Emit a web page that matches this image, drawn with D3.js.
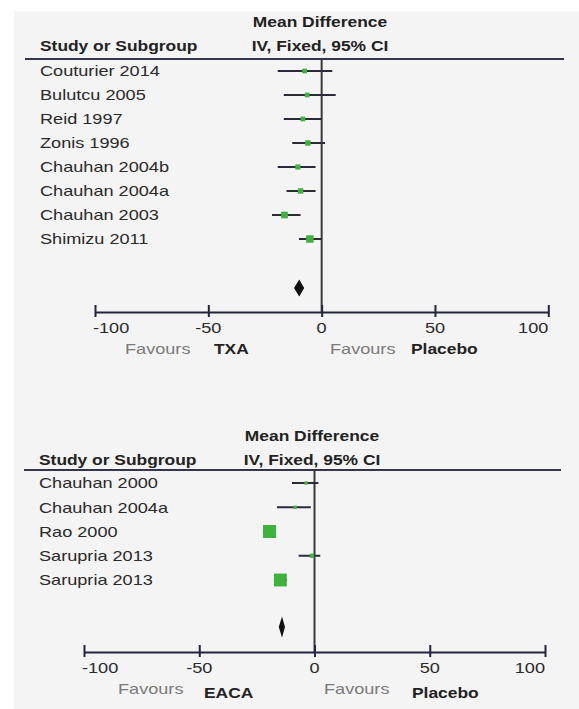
<!DOCTYPE html>
<html>
<head>
<meta charset="utf-8">
<script src="https://cdn.jsdelivr.net/npm/d3@7"></script>
<style>
  html, body { margin: 0; padding: 0; background: #ffffff; }
  svg { display: block; }
</style>
</head>
<body>
<div id="chart"></div>
<script>
// Tranexamic acid vs placebo
const txaStudies = ["Couturier 2014", "Bulutcu 2005", "Reid 1997", "Zonis 1996",
                    "Chauhan 2004b", "Chauhan 2004a", "Chauhan 2003", "Shimizu 2011"];
const txaMean   = [-7.5, -6.4, -8.3, -6.1, -10.5, -9.3, -16.4, -5.2];
const txaLower  = [-19.4, -16.7, -16.7, -13.0, -19.4, -15.5, -21.9, -10.0];
const txaUpper  = [4.7, 6.2, 0.0, 1.5, -2.7, -2.7, -9.3, 0.0];
const txaWeight = [6, 6, 6, 8, 7, 8, 12, 15];
const txaPooled = [-9.9, -12.2, -7.7];   // mean, lower, upper

// Epsilon-aminocaproic acid vs placebo
const eacaStudies = ["Chauhan 2000", "Chauhan 2004a", "Rao 2000", "Sarupria 2013", "Sarupria 2013"];
const eacaMean   = [-3.7, -8.4, -19.5, -1.1, -14.8];
const eacaLower  = [-9.8, -16.3, -22.3, -6.9, -17.6];
const eacaUpper  = [1.7, -1.6, -16.7, 2.5, -12.0];
const eacaWeight = [3, 3, 45, 5, 44];
const eacaPooled = [-14.1, -15.5, -12.8];

const axisTicks = [-100, -50, 0, 50, 100];
const axisTickLabels = ["-100", "-50", "0", "50", "100"];

const W = 579, H = 709;
const FONT = "'Liberation Sans', Arial, Helvetica, sans-serif";
const SX = 1.25;      // glyphs in this figure are drawn wide
const SXB = 1.2;

const svg = d3.select("#chart").append("svg")
  .attr("width", W).attr("height", H);

svg.append("rect").attr("x", 14).attr("y", 11)
  .attr("width", W - 14).attr("height", H - 11)
  .attr("fill", "#f4f4f4");

function label(g, str, x, y, o = {}) {
  const bold = !!o.bold;
  return g.append("text")
    .attr("transform", `translate(${x},${y}) scale(${o.sx || (bold ? SXB : SX)},1)`)
    .attr("text-anchor", o.anchor || "start")
    .attr("dominant-baseline", "central")
    .attr("font-family", FONT)
    .attr("font-size", o.size || 14.5)
    .attr("font-weight", bold ? "bold" : "normal")
    .attr("fill", o.fill || "#262626")
    .text(str);
}

const sideScale = d3.scaleSqrt().domain([0, 45]).range([0, 13]);

function drawPanel(cfg) {
  const g = svg.append("g");
  const n = cfg.studies.length;
  const x = d3.scaleLinear().domain([-100, 100]).range([cfg.x0, cfg.x1]);
  const y = d3.scalePoint().domain(d3.range(n)).range([cfg.rowTop, cfg.rowBottom]);

  // column headings
  label(g, "Mean Difference", cfg.headCx, cfg.headTop, { bold: true, anchor: "middle", fill: "#222" });
  label(g, "Study or Subgroup", cfg.labelX, cfg.headTop + 24, { bold: true, fill: "#222" });
  label(g, "IV, Fixed, 95% CI", cfg.headCx, cfg.headTop + 24, { bold: true, anchor: "middle", fill: "#222" });

  g.append("line")
    .attr("x1", cfg.ruleX0).attr("x2", cfg.ruleX1)
    .attr("y1", cfg.ruleY).attr("y2", cfg.ruleY)
    .attr("stroke", "#34344a").attr("stroke-width", 2);

  // line of no effect
  g.append("line")
    .attr("x1", x(0)).attr("x2", x(0))
    .attr("y1", cfg.ruleY).attr("y2", cfg.axisY)
    .attr("stroke", "#3a3a3a").attr("stroke-width", 2);

  const idx = d3.range(n);

  // study names
  idx.forEach(i => label(g, cfg.studies[i], cfg.labelX, y(i), { fill: "#2a2a2a" }));

  // confidence intervals
  g.selectAll("line.ci").data(idx).join("line")
    .attr("class", "ci")
    .attr("x1", i => x(cfg.lower[i])).attr("x2", i => x(cfg.upper[i]))
    .attr("y1", i => y(i)).attr("y2", i => y(i))
    .attr("stroke", "#2b2b3a").attr("stroke-width", 2);

  // point estimates, sized by weight
  g.selectAll("rect.pt").data(idx).join("rect")
    .attr("class", "pt")
    .attr("x", i => x(cfg.mean[i]) - sideScale(cfg.weight[i]) / 2)
    .attr("y", i => y(i) - sideScale(cfg.weight[i]) / 2)
    .attr("width", i => sideScale(cfg.weight[i]))
    .attr("height", i => sideScale(cfg.weight[i]))
    .attr("fill", "#3cb43c");

  // pooled estimate
  const [pm, pl, pu] = cfg.pooled;
  const dy = cfg.diamondH / 2, yd = cfg.diamondY;
  g.append("path")
    .attr("d", `M${x(pl)},${yd} L${x(pm)},${yd - dy} L${x(pu)},${yd} L${x(pm)},${yd + dy} Z`)
    .attr("fill", "#111");

  // scale axis
  const ax = g.append("g")
    .attr("transform", `translate(0,${cfg.axisY})`)
    .call(d3.axisBottom(x).tickValues(axisTicks).tickSize(0).tickSizeOuter(0).tickFormat(() => ""));
  ax.select(".domain").attr("stroke", "#24243c").attr("stroke-width", 2);
  ax.selectAll(".tick line").attr("y1", -7).attr("y2", 5)
    .attr("stroke", "#24243c").attr("stroke-width", 2);
  ax.selectAll(".tick text").remove();

  axisTicks.forEach((t, i) => {
    const anchor = i === 0 ? "start" : (i === axisTicks.length - 1 ? "end" : "middle");
    const dx = i === 0 ? -2 : 0;
    label(g, axisTickLabels[i], x(t) + dx, cfg.axisY + 16, { anchor, fill: "#2a2a2a" });
  });

  // direction labels
  label(g, "Favours", cfg.favL, cfg.axisY + 37, { fill: "#7a7a7a" });
  label(g, cfg.treatment, cfg.treatX, cfg.axisY + 37 + cfg.boldDy, { bold: true, fill: "#222" });
  label(g, "Favours", cfg.favR, cfg.axisY + 37, { fill: "#7a7a7a" });
  label(g, "Placebo", cfg.placeboX, cfg.axisY + 37 + cfg.boldDy, { bold: true, fill: "#222" });
}

drawPanel({
  studies: txaStudies, mean: txaMean, lower: txaLower, upper: txaUpper,
  weight: txaWeight, pooled: txaPooled, treatment: "TXA",
  x0: 95, x1: 548.3, rowTop: 71, rowBottom: 239,
  headCx: 320, headTop: 22, labelX: 40,
  ruleX0: 25, ruleX1: 564, ruleY: 59,
  diamondY: 288, diamondH: 17, axisY: 312,
  favL: 125, treatX: 214, favR: 330, placeboX: 411, boldDy: 0
});

drawPanel({
  studies: eacaStudies, mean: eacaMean, lower: eacaLower, upper: eacaUpper,
  weight: eacaWeight, pooled: eacaPooled, treatment: "EACA",
  x0: 84, x1: 545, rowTop: 483, rowBottom: 580,
  headCx: 312, headTop: 436, labelX: 39,
  ruleX0: 24, ruleX1: 561, ruleY: 470,
  diamondY: 627, diamondH: 21, axisY: 652,
  favL: 118, treatX: 204, favR: 324, placeboX: 412, boldDy: 4
});
</script>
</body>
</html>
